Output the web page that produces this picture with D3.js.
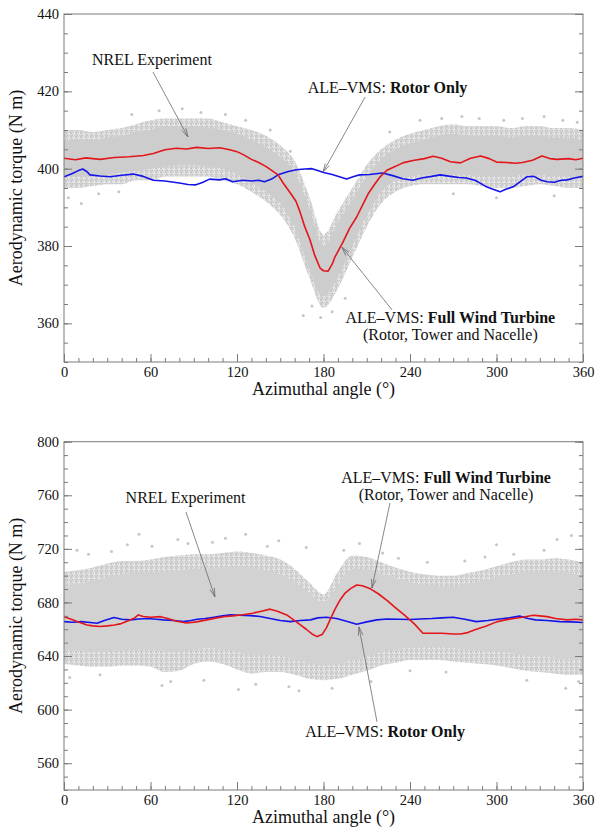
<!DOCTYPE html>
<html>
<head>
<meta charset="utf-8">
<script src="https://cdn.jsdelivr.net/npm/d3@7"></script>
<style>
  body { margin: 0; background: #fff; }
  svg { display: block; }
  svg text { font-family: "Liberation Serif", Tinos, "Times New Roman", Times, "DejaVu Serif", serif; fill: #111; }
</style>
</head>
<body>
<svg id="chart" width="595" height="827" font-family="Liberation Serif, Tinos, Times New Roman, DejaVu Serif, serif"></svg>
<script>
// Azimuthal torque, NREL Phase VI: experiment cloud vs ALE-VMS runs

const xTicks = [0, 60, 120, 180, 240, 300, 360];
const topYTicks = [360, 380, 400, 420, 440];
const bottomYTicks = [560, 600, 640, 680, 720, 760, 800];

// experiment cloud, read as envelopes every 10 degrees
const bandAngles = [0, 10, 20, 30, 40, 50, 60, 70, 80, 90, 100, 110, 120, 130, 140, 150, 160, 170, 180,
  190, 200, 210, 220, 230, 240, 250, 260, 270, 280, 290, 300, 310, 320, 330, 340, 350, 360];

const topOuterLow = [395, 395, 395.5, 396, 396, 397, 397, 398, 398, 398, 398, 397, 396, 394, 391.5, 388, 382, 372, 364,
  369, 377, 385, 391, 394, 395.5, 396, 396, 396, 396, 395.5, 395, 395, 395.5, 396, 395.5, 395, 395];
const topOuterHigh = [410, 410, 409.5, 410, 410.5, 411.5, 412.5, 413, 413, 413, 413, 412, 411, 410, 408.5, 406, 402, 393, 383,
  389, 395, 401, 405, 407.5, 409, 410, 411, 411.5, 411, 411, 411, 410.5, 411, 411, 410.5, 410.5, 410];
const topInnerLow = [398, 398, 398, 398.5, 399, 399.5, 400, 400.5, 401, 401, 400.5, 400, 398.5, 396.5, 394, 391, 385, 374, 367,
  372, 380, 388, 394, 397, 398, 398.5, 398.5, 398.5, 398.5, 398, 398, 398, 398.5, 398.5, 398, 398, 398];
const topInnerHigh = [407, 407.5, 407.5, 408, 408.5, 409.5, 410, 411, 411, 411, 410.5, 410, 409, 407.5, 405.5, 403, 399, 390, 380,
  386, 392, 398, 402.5, 405, 406.5, 407.5, 408.5, 409, 408.5, 408.5, 408.5, 408, 408.5, 408.5, 408, 408, 407.5];

const topOutAngle = [3, 12, 24, 38, 47, 66, 82, 95, 112, 126, 143, 157, 166, 172, 178, 186, 195, 226, 247, 262,
  276, 288, 305, 318, 333, 346, 356, 270, 300, 340];
const topOutTorque = [392.5, 391, 393.5, 394, 414, 415, 415.5, 414.5, 414, 412.5, 410, 404.5, 362, 364.5, 361.5, 363, 366.5, 409.5, 412.5, 413,
  413.5, 413, 412.5, 413, 413.5, 412.5, 412, 393.5, 392.5, 393];

const bottomOuterLow = [634, 633, 632, 632, 633, 633, 632, 628, 629, 634, 636, 634, 630, 627, 628, 628, 626, 623, 622,
  623, 626, 629, 633, 635, 637, 637, 637, 636, 635, 634, 633, 631, 629, 628, 627, 626, 626];
const bottomOuterHigh = [703, 704, 706, 709, 711, 711, 712, 714, 715, 716, 716, 717, 718, 717, 715, 712, 705, 695, 686,
  703, 715, 714, 710, 706, 703, 701, 700, 700, 702, 704, 707, 710, 712, 712, 713, 712, 710];
const bottomInnerLow = [645, 644, 643, 643, 644, 645, 645, 643, 643, 645, 646, 645, 643, 641, 641, 640, 638, 635, 633,
  634, 637, 640, 643, 645, 646, 647, 647, 646, 645, 644, 644, 642, 641, 640, 639, 638, 638];
const bottomInnerHigh = [692, 694, 696, 699, 701, 702, 702, 703, 704, 705, 705, 706, 707, 706, 704, 701, 695, 687, 680,
  693, 705, 705, 701, 698, 695, 693, 692, 692, 694, 696, 699, 701, 703, 703, 703, 702, 700];

const bottomOutAngle = [4, 9, 17, 25, 33, 44, 52, 61, 68, 74, 79, 86, 97, 103, 112, 121, 126, 133, 141, 149, 156,
  163, 168, 186, 194, 205, 213, 221, 232, 240, 252, 265, 278, 292, 300, 312, 321, 333, 342, 348, 352, 357];
const bottomOutTorque = [624, 719, 716, 626, 718, 723, 731, 722, 618, 621, 727, 724, 622, 725, 728, 615, 731, 619, 722, 726, 617,
  614, 721, 616, 719, 724, 621, 717, 713, 629, 710, 628, 711, 714, 723, 716, 622, 719, 727, 616, 730, 621];

// ALE-VMS: full wind turbine (red) and rotor only (blue)
const topRedAngle = [0, 8, 15, 25, 35, 45, 55, 62, 70, 78, 85, 92, 100, 108, 115, 120, 125, 130, 135, 140, 145, 148.5,
  152, 157, 161, 164, 167, 170.6, 174, 177.6, 180, 183.2, 186, 188, 193.5, 198, 203, 207, 211, 215, 219, 224, 230,
  235, 242, 250, 256, 262, 268, 275, 282, 289, 295, 300, 307, 313, 318, 325, 331.5, 337, 342, 350, 355, 360];
const topRedTorque = [402.7, 402.3, 402.8, 402.4, 402.9, 403.1, 403.4, 403.9, 404.9, 405.3, 405.1, 405.5, 405.2, 405.4, 404.9, 404.4, 403.5, 402.4, 401.6, 400.6, 399.3, 398.4,
  396.3, 393.7, 391.5, 388.5, 385, 381.6, 377.5, 374.3, 373.6, 373.5, 375.3, 377.2, 381, 384.5, 387.5, 390.5, 393.5, 395.7, 397.8, 399.6, 400.6,
  401.5, 402.1, 402.6, 403.2, 402.7, 401.8, 401.5, 402.7, 403.3, 402.6, 401.7, 401.6, 401.4, 401.6, 402.2, 403.3, 402.6, 402.4, 402.6, 402.3, 402.7];

const topBlueAngle = [0, 5, 10, 13, 16, 18, 25, 32, 40, 48, 55, 62, 70, 80, 86, 91, 96, 101, 108, 112, 117, 124, 130,
  135, 139, 144, 148.5, 155, 161, 167, 172, 176, 180, 186, 191, 196, 201, 205, 212, 221, 228, 235, 242, 248, 255, 261,
  268, 274, 279, 285, 289, 293, 298, 302.5, 306, 311.5, 316, 321, 326, 331, 335, 340, 345, 349, 354, 360];
const topBlueTorque = [397.9, 398.6, 399.5, 399.9, 399.2, 398.4, 398.1, 397.9, 398.3, 398.6, 398, 397, 396.8, 396.3, 395.9, 395.8, 396.4, 397.3, 397.1, 397.4, 396.6, 397, 396.8,
  397, 396.6, 397.3, 398.4, 399.2, 399.7, 399.9, 400, 399.5, 399, 398.5, 397.9, 397.3, 398, 398.4, 398.5, 398.9, 398.2, 397.4, 397, 397.6, 398, 398.4,
  398, 397.7, 397.6, 397, 396.2, 395.3, 394.6, 394, 394.6, 395.3, 396.5, 397.9, 398, 397, 396.6, 396.5, 397, 397.1, 397.6, 398];

const bottomRedAngle = [0, 5, 10, 16, 20, 25, 30, 35, 39, 45, 49, 51.5, 55, 60, 67, 72, 78, 85, 92, 99, 106, 112, 117,
  124, 131, 137, 143, 148, 154.5, 160, 164, 168, 172, 175.5, 179, 182, 184.5, 188, 191.5, 195, 199, 203, 207, 212, 218,
  224, 230, 236, 243, 249, 255, 262, 270, 275, 280, 286, 293, 300, 306, 312, 318, 325.5, 330, 335, 341, 349, 355, 360];
const bottomRedTorque = [669.4, 667.5, 665.5, 663.2, 662.5, 662, 662.5, 663.2, 664, 666.5, 668.5, 670.7, 669.5, 669, 669.4, 668, 666, 664.7, 665.5, 667, 668.5, 669.5, 670,
  670.8, 672, 673.5, 675, 673.5, 670.7, 666.5, 663.2, 660, 656.5, 654.5, 656, 661, 667, 675, 681.9, 687, 690.5, 693, 692.5, 690.5, 686.5,
  681.5, 676, 670.7, 664, 657, 657, 657, 656.5, 656.5, 657.5, 660, 662.5, 665.5, 667, 668, 669, 670.5, 670, 669.4, 668, 667, 667.5, 667];

const bottomBlueAngle = [0, 6, 12, 18, 23, 28, 34.7, 40, 46, 52, 58, 64, 69, 76, 83, 88, 92.5, 98, 104, 110, 115.6, 122,
  129.5, 136, 143, 150, 157, 164, 171, 176, 182, 189, 196, 203, 210, 217, 224, 232, 240, 247, 255, 262, 270, 278, 286,
  294, 302, 309, 316, 322, 327, 335, 344, 352, 360];
const bottomBlueTorque = [665.7, 665.2, 665.7, 665, 664.5, 666.5, 668.7, 667.5, 667, 667.7, 668, 667.5, 667, 666.5, 665.7, 666.5, 667.5, 668, 669, 670, 670.7, 670.5,
  670.2, 669.5, 668, 666.5, 665.7, 666.5, 667, 668.5, 669, 668, 666, 663.8, 665.5, 667, 667.7, 667.5, 667.3, 667.7, 668, 668.5, 669, 667.5, 665.7,
  666.5, 667.7, 668.5, 669.8, 668, 667, 666.5, 665.7, 665.5, 665];

const SERIF = '"Liberation Serif", Tinos, "Times New Roman", Times, "DejaVu Serif", serif';
const RED = "#e2161b";
const BLUE = "#1414e8";
const DOT = "#c6c6c6";
const FRAME = "#7a7a7a";
const PLOT_LEFT = 64, PLOT_RIGHT = 583;

const svg = d3.select("#chart");
const defs = svg.append("defs");

// dotted texture for the sparse fringe of the measured cloud
const pat = defs.append("pattern").attr("id", "dots")
  .attr("patternUnits", "userSpaceOnUse").attr("width", 5).attr("height", 4.4);
[[1.2, 1.1, 1.3], [3.6, 0.6, 1.0], [2.4, 3.3, 1.3], [4.6, 3.0, 0.9], [0.2, 3.6, 0.9]].forEach(c => {
  pat.append("circle").attr("cx", c[0]).attr("cy", c[1]).attr("r", c[2]).attr("fill", DOT);
});

function drawPanel(p) {
  const x = d3.scaleLinear().domain([0, 360]).range([PLOT_LEFT, PLOT_RIGHT]);
  const y = d3.scaleLinear().domain(p.yDomain).range([p.bottom, p.top]);
  const g = svg.append("g");

  defs.append("clipPath").attr("id", p.id + "-clip")
    .append("rect").attr("x", PLOT_LEFT).attr("y", p.top)
    .attr("width", PLOT_RIGHT - PLOT_LEFT).attr("height", p.bottom - p.top);

  const plot = g.append("g").attr("clip-path", `url(#${p.id}-clip)`);

  const rows = bandAngles.map((a, i) => ({
    a, ol: p.outerLow[i], oh: p.outerHigh[i], il: p.innerLow[i], ih: p.innerHigh[i]
  }));

  // Experiment cloud
  plot.append("path").datum(rows)
    .attr("d", d3.area().curve(d3.curveMonotoneX)
      .x(d => x(d.a)).y0(d => y(d.ol)).y1(d => y(d.oh)))
    .attr("fill", "url(#dots)");
  plot.append("path").datum(rows)
    .attr("d", d3.area().curve(d3.curveMonotoneX)
      .x(d => x(d.a)).y0(d => y(d.il)).y1(d => y(d.ih)))
    .attr("fill", p.coreFill);
  plot.selectAll(".out").data(p.outAngle.map((a, i) => [a, p.outTorque[i]]))
    .enter().append("circle")
    .attr("cx", d => x(d[0])).attr("cy", d => y(d[1])).attr("r", 1.5)
    .attr("fill", DOT);

  // Simulation curves
  const line = d3.line().x(d => x(d[0])).y(d => y(d[1]));
  p.series.forEach(s => {
    plot.append("path").datum(s.angle.map((a, i) => [a, s.torque[i]]))
      .attr("d", line).attr("fill", "none")
      .attr("stroke", s.color).attr("stroke-width", 1.6).attr("stroke-linejoin", "round");
  });

  // Axes, ticks pointing inward
  const minorX = d3.range(0, 361, 10);
  const minorY = d3.range(p.yDomain[0], p.yDomain[1] + 0.01, p.yMinor);
  const axes = [
    { ax: d3.axisBottom(x).tickValues(minorX), tr: `translate(0,${p.bottom})`, minor: true },
    { ax: d3.axisBottom(x).tickValues(xTicks).tickFormat(d3.format("d")), tr: `translate(0,${p.bottom})` },
    { ax: d3.axisLeft(y).tickValues(minorY), tr: `translate(${PLOT_LEFT},0)`, minor: true },
    { ax: d3.axisLeft(y).tickValues(p.yTicks), tr: `translate(${PLOT_LEFT},0)` },
    { ax: d3.axisRight(y).tickValues(minorY), tr: `translate(${PLOT_RIGHT},0)`, minor: true },
    { ax: d3.axisRight(y).tickValues(p.yTicks).tickFormat(""), tr: `translate(${PLOT_RIGHT},0)` }
  ];
  axes.forEach(o => {
    o.ax.tickSize(o.minor ? -4 : -8).tickPadding(o.minor ? 0 : 5);
    if (o.minor) o.ax.tickFormat("");
    const a = g.append("g").attr("transform", o.tr).call(o.ax).attr("font-family", SERIF);
    a.select(".domain").remove();
    a.selectAll("line").attr("stroke", FRAME);
    a.selectAll("text").style("font-size", "14.5px")
      .style("font-family", SERIF).attr("fill", "#111");
  });

  g.append("rect").attr("x", PLOT_LEFT).attr("y", p.top)
    .attr("width", PLOT_RIGHT - PLOT_LEFT).attr("height", p.bottom - p.top)
    .attr("fill", "none").attr("stroke", FRAME).attr("stroke-width", 1);

  // Axis titles
  g.append("text").attr("x", (PLOT_LEFT + PLOT_RIGHT) / 2).attr("y", p.bottom + 33)
    .attr("text-anchor", "middle").style("font-size", "18px").style("font-family", SERIF)
    .text("Azimuthal angle (°)");
  g.append("text")
    .attr("transform", `translate(22,${(p.top + p.bottom) / 2}) rotate(-90)`)
    .attr("text-anchor", "middle").style("font-size", "18px").style("font-family", SERIF)
    .text("Aerodynamic torque (N m)");

  // Annotations with thin arrows
  p.notes.forEach(n => {
    const t = g.append("text").attr("text-anchor", "middle")
      .style("font-size", "16px").style("font-family", SERIF);
    n.lines.forEach((ln, li) => {
      ln.forEach((part, pi) => {
        const ts = t.append("tspan").text(part.t);
        if (pi === 0) ts.attr("x", x(n.at[0])).attr("y", y(n.at[1]) + li * 17);
        if (part.bold) ts.style("font-weight", "bold");
      });
    });
    const x1 = x(n.from[0]), y1 = y(n.from[1]), x2 = x(n.to[0]), y2 = y(n.to[1]);
    const ang = Math.atan2(y2 - y1, x2 - x1);
    const head = 9, spread = 0.26;
    g.append("line").attr("x1", x1).attr("y1", y1).attr("x2", x2).attr("y2", y2)
      .attr("stroke", "#6a6a6a").attr("stroke-width", 0.8);
    [-spread, spread].forEach(s => {
      g.append("line").attr("x1", x2).attr("y1", y2)
        .attr("x2", x2 - head * Math.cos(ang + s)).attr("y2", y2 - head * Math.sin(ang + s))
        .attr("stroke", "#6a6a6a").attr("stroke-width", 0.8);
    });
  });
}

drawPanel({
  id: "top", top: 14, bottom: 362, yDomain: [350, 440], yTicks: topYTicks, yMinor: 5,
  outerLow: topOuterLow, outerHigh: topOuterHigh, innerLow: topInnerLow, innerHigh: topInnerHigh,
  outAngle: topOutAngle, outTorque: topOutTorque, coreFill: "#cdcdcd",
  series: [
    { angle: topBlueAngle, torque: topBlueTorque, color: BLUE },
    { angle: topRedAngle, torque: topRedTorque, color: RED }
  ],
  notes: [
    { lines: [[{ t: "NREL Experiment" }]], at: [61, 426.8], from: [61.7, 425], to: [86, 408.2] },
    { lines: [[{ t: "ALE\u2013VMS: " }, { t: "Rotor Only", bold: true }]], at: [224.4, 419.6], from: [208.8, 418.5], to: [179.7, 399.1] },
    { lines: [[{ t: "ALE\u2013VMS: " }, { t: "Full Wind Turbine", bold: true }], [{ t: "(Rotor, Tower and Nacelle)" }]],
      at: [268, 360.1], from: [227.5, 363.5], to: [192.8, 379.7] }
  ]
});

drawPanel({
  id: "bottom", top: 441.7, bottom: 790, yDomain: [540, 800], yTicks: bottomYTicks, yMinor: 10,
  outerLow: bottomOuterLow, outerHigh: bottomOuterHigh, innerLow: bottomInnerLow, innerHigh: bottomInnerHigh,
  outAngle: bottomOutAngle, outTorque: bottomOutTorque, coreFill: "#d2d2d2",
  series: [
    { angle: bottomBlueAngle, torque: bottomBlueTorque, color: BLUE },
    { angle: bottomRedAngle, torque: bottomRedTorque, color: RED }
  ],
  notes: [
    { lines: [[{ t: "NREL Experiment" }]], at: [84.3, 754.3], from: [84.6, 747.5], to: [104.7, 684.1] },
    { lines: [[{ t: "ALE\u2013VMS: " }, { t: "Full Wind Turbine", bold: true }], [{ t: "(Rotor, Tower and Nacelle)" }]],
      at: [265, 769.2], from: [226.1, 754.3], to: [213.6, 690.8] },
    { lines: [[{ t: "ALE\u2013VMS: " }, { t: "Rotor Only", bold: true }]], at: [222.7, 579.6], from: [217.1, 590.9], to: [204.6, 661.8] }
  ]
});
</script>
</body>
</html>
